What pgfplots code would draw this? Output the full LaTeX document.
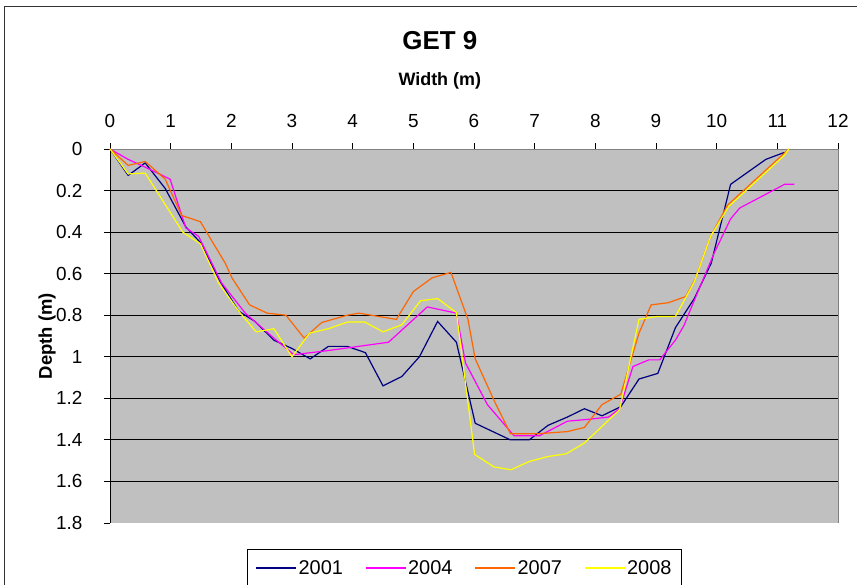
\documentclass[border=0pt]{standalone}
\usepackage{pgfplots}
\pgfplotsset{compat=1.18}
\usepackage{fontspec}
\setmainfont{Liberation Sans}
\definecolor{plotbg}{RGB}{192,192,192}
\definecolor{c2001}{RGB}{0,0,128}
\definecolor{c2004}{RGB}{255,0,255}
\definecolor{c2007}{RGB}{255,102,0}
\definecolor{c2008}{RGB}{255,255,0}
\definecolor{bordergray}{RGB}{128,128,128}
\begin{document}
\begin{tikzpicture}
\useasboundingbox (0,0) rectangle (857bp,585bp);
\draw[line width=1bp, black!80] (4.5bp,-5bp) -- (4.5bp,578.5bp) -- (870bp,578.5bp);
\begin{axis}[
  scale only axis,
  width=728bp, height=374bp,
  at={(110bp,62bp)}, anchor=south west,
  xmin=0, xmax=12, ymin=0, ymax=1.8,
  y dir=reverse,
  axis x line*=top, axis y line*=left,
  axis line style={black, line width=1bp},
  axis background/.style={fill=plotbg},
  xtick={0,1,...,12},
  ytick={0,0.2,...,1.8},
  extra y ticks={0.2,0.4,0.6,0.8,1,1.2,1.4,1.6},
  extra y tick labels={},
  extra y tick style={grid=major, major tick length=0pt},
  major grid style={black, line width=1bp},
  tick align=outside,
  major tick length=6bp,
  tick style={black, line width=1bp},
  /pgf/number format/assume math mode=true,
  tick label style={font=\fontsize{19}{22}\selectfont},
  xticklabel style={yshift=12bp},
  yticklabel style={xshift=-18bp},
  title={GET 9},
  title style={font=\bfseries\fontsize{26}{30}\selectfont, at={(axis description cs:0.453,1.275)}, anchor=center},
  xlabel={Width (m)},
  xlabel style={font=\bfseries\fontsize{18}{21}\selectfont, at={(axis description cs:0.453,1.182)}, anchor=center},
  ylabel={Depth (m)},
  ylabel style={font=\bfseries\fontsize{18.5}{21}\selectfont, at={(axis description cs:-0.0865,0.5)}, anchor=center, rotate=0},
  legend columns=4,
  legend style={at={(axis description cs:0.1882,-0.0695)}, anchor=north west,
    draw=black, line width=0.8bp, fill=white, font=\fontsize{20}{23}\selectfont,
    inner xsep=8bp, inner ysep=9bp,
    /tikz/every even column/.append style={column sep=20bp}},
  legend image code/.code={\draw[#1, line width=1.2bp] (0bp,0bp) -- (40bp,0bp);},
  every axis plot/.append style={line width=1.2bp},
  clip=false,
]
\draw[bordergray, line width=1bp] (rel axis cs:1,0) -- (rel axis cs:1,1) -- (rel axis cs:0,1);
\addplot[c2001] coordinates {(0,0) (0.30,0.127) (0.58,0.067) (0.91,0.19) (1.25,0.375) (1.49,0.45) (1.82,0.64) (2.12,0.78) (2.39,0.83) (2.70,0.92) (3.0,0.96) (3.30,1.01) (3.60,0.95) (3.91,0.95) (4.21,0.98) (4.50,1.14) (4.81,1.095) (5.10,1.0) (5.40,0.83) (5.71,0.93) (6.02,1.32) (6.60,1.40) (6.91,1.40) (7.22,1.33) (7.54,1.29) (7.82,1.25) (8.11,1.284) (8.42,1.24) (8.72,1.107) (9.03,1.08) (9.32,0.86) (9.63,0.72) (9.91,0.55) (10.23,0.17) (10.81,0.05) (11.12,0.016)};
\addlegendentry{2001}
\addplot[c2004] coordinates {(0,0) (0.3,0.05) (0.6,0.09) (0.99,0.145) (1.25,0.38) (1.46,0.42) (1.84,0.645) (2.23,0.79) (2.70,0.91) (3.03,0.99) (3.6,0.97) (4.59,0.93) (5.23,0.76) (5.71,0.79) (5.86,1.03) (6.22,1.23) (6.66,1.38) (7.08,1.38) (7.54,1.31) (7.92,1.30) (8.22,1.29) (8.40,1.25) (8.62,1.047) (8.88,1.015) (9.06,1.015) (9.32,0.92) (9.46,0.85) (9.60,0.75) (9.96,0.50) (10.23,0.336) (10.38,0.284) (11.12,0.17) (11.28,0.17)};
\addlegendentry{2004}
\addplot[c2007] coordinates {(0,0) (0.30,0.079) (0.58,0.06) (0.91,0.145) (1.18,0.32) (1.49,0.35) (1.90,0.55) (2.01,0.62) (2.30,0.75) (2.59,0.79) (2.90,0.80) (3.20,0.91) (3.49,0.835) (3.91,0.80) (4.10,0.79) (4.72,0.82) (5.0,0.686) (5.31,0.62) (5.62,0.594) (5.90,0.82) (6.02,1.01) (6.33,1.21) (6.60,1.37) (7.08,1.37) (7.54,1.36) (7.82,1.34) (8.11,1.23) (8.42,1.18) (8.72,0.886) (8.92,0.75) (9.20,0.74) (9.49,0.71) (9.64,0.63) (9.9,0.42) (10.18,0.27) (11.19,0.0)};
\addlegendentry{2007}
\addplot[c2008] coordinates {(0,0) (0.30,0.12) (0.58,0.116) (1.20,0.40) (1.49,0.456) (1.79,0.645) (2.12,0.78) (2.41,0.88) (2.70,0.865) (3.0,1.0) (3.29,0.886) (3.60,0.865) (3.91,0.833) (4.20,0.833) (4.50,0.88) (4.81,0.846) (5.12,0.73) (5.40,0.72) (5.71,0.787) (6.01,1.47) (6.33,1.53) (6.61,1.544) (6.91,1.504) (7.22,1.48) (7.52,1.467) (7.82,1.415) (8.40,1.255) (8.72,0.82) (9.02,0.806) (9.32,0.806) (9.63,0.64) (9.90,0.42) (10.20,0.276) (11.11,0.032) (11.19,0.0)};
\addlegendentry{2008}
\end{axis}
\end{tikzpicture}
\end{document}
